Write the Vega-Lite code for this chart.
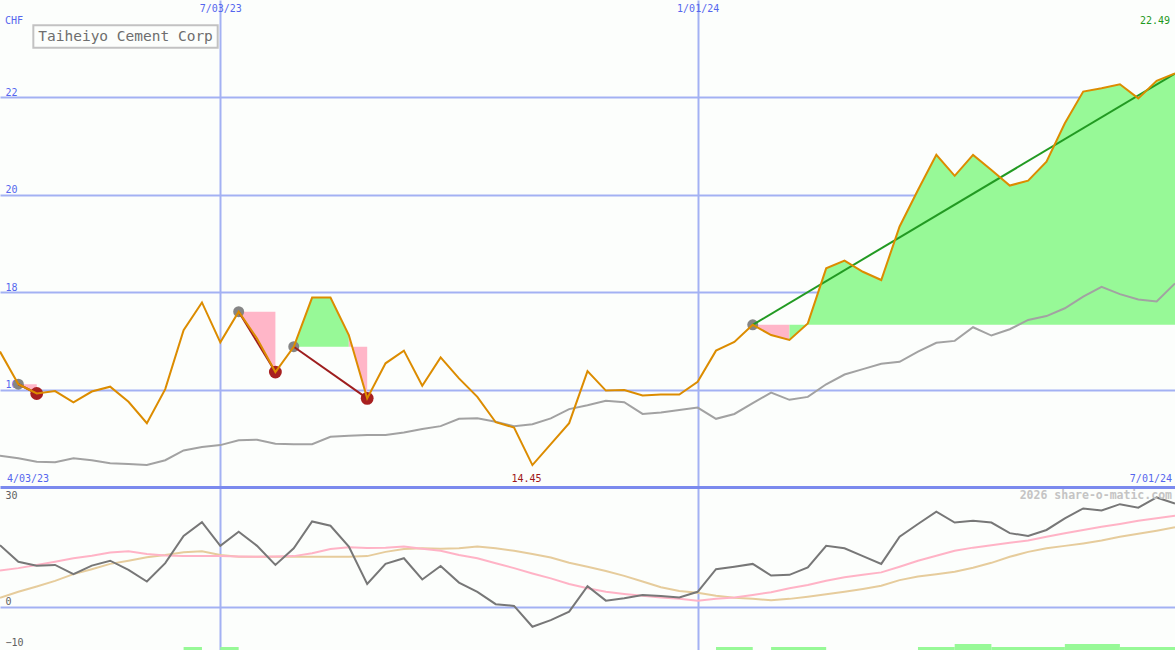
{
  "$schema": "https://vega.github.io/schema/vega-lite/v6.json",
  "padding": 0,
  "spacing": 0,
  "background": "#FCFEFC",
  "config": {
    "view": {"stroke": null},
    "font": "DejaVu Sans Mono",
    "axis": {"labelFont": "DejaVu Sans Mono", "titleFont": "DejaVu Sans Mono"}
  },
  "datasets": {
    "prices": [
      {"date": "2023-04-10", "close": 16.78, "ma": 14.64, "osc": 17.5, "sig1": 10.3, "sig2": 2.6},
      {"date": "2023-04-17", "close": 16.11, "ma": 14.59, "osc": 12.8, "sig1": 11.0, "sig2": 4.3},
      {"date": "2023-04-24", "close": 15.92, "ma": 14.52, "osc": 11.7, "sig1": 11.9, "sig2": 5.8},
      {"date": "2023-05-01", "close": 15.97, "ma": 14.51, "osc": 11.9, "sig1": 12.8, "sig2": 7.4},
      {"date": "2023-05-08", "close": 15.74, "ma": 14.59, "osc": 9.3, "sig1": 13.8, "sig2": 9.3},
      {"date": "2023-05-15", "close": 15.96, "ma": 14.55, "osc": 11.7, "sig1": 14.5, "sig2": 10.7},
      {"date": "2023-05-22", "close": 16.06, "ma": 14.49, "osc": 13.1, "sig1": 15.4, "sig2": 12.2},
      {"date": "2023-05-29", "close": 15.75, "ma": 14.47, "osc": 10.5, "sig1": 15.8, "sig2": 13.1},
      {"date": "2023-06-05", "close": 15.31, "ma": 14.45, "osc": 7.2, "sig1": 15.0, "sig2": 14.1},
      {"date": "2023-06-12", "close": 16.01, "ma": 14.55, "osc": 12.4, "sig1": 14.6, "sig2": 14.7},
      {"date": "2023-06-19", "close": 17.22, "ma": 14.75, "osc": 20.1, "sig1": 14.4, "sig2": 15.5},
      {"date": "2023-06-26", "close": 17.79, "ma": 14.82, "osc": 24.0, "sig1": 14.4, "sig2": 15.8},
      {"date": "2023-07-03", "close": 16.97, "ma": 14.86, "osc": 17.3, "sig1": 14.4, "sig2": 14.7},
      {"date": "2023-07-10", "close": 17.60, "ma": 14.96, "osc": 21.3, "sig1": 14.3, "sig2": 14.2},
      {"date": "2023-07-17", "close": 17.05, "ma": 14.97, "osc": 17.3, "sig1": 14.2, "sig2": 14.2},
      {"date": "2023-07-24", "close": 16.36, "ma": 14.89, "osc": 11.9, "sig1": 14.3, "sig2": 14.2},
      {"date": "2023-07-31", "close": 16.88, "ma": 14.88, "osc": 16.6, "sig1": 14.4, "sig2": 14.2},
      {"date": "2023-08-07", "close": 17.89, "ma": 14.88, "osc": 24.2, "sig1": 15.2, "sig2": 14.2},
      {"date": "2023-08-14", "close": 17.89, "ma": 15.03, "osc": 23.0, "sig1": 16.4, "sig2": 14.2},
      {"date": "2023-08-21", "close": 17.12, "ma": 15.05, "osc": 17.1, "sig1": 16.9, "sig2": 14.2},
      {"date": "2023-08-28", "close": 15.82, "ma": 15.07, "osc": 6.5, "sig1": 16.7, "sig2": 14.4},
      {"date": "2023-09-04", "close": 16.54, "ma": 15.07, "osc": 12.2, "sig1": 16.8, "sig2": 15.6},
      {"date": "2023-09-11", "close": 16.80, "ma": 15.12, "osc": 13.8, "sig1": 17.1, "sig2": 16.4},
      {"date": "2023-09-18", "close": 16.08, "ma": 15.19, "osc": 7.8, "sig1": 16.5, "sig2": 16.6},
      {"date": "2023-09-25", "close": 16.66, "ma": 15.25, "osc": 11.6, "sig1": 15.9, "sig2": 16.5},
      {"date": "2023-10-02", "close": 16.23, "ma": 15.40, "osc": 6.9, "sig1": 14.7, "sig2": 16.6},
      {"date": "2023-10-09", "close": 15.85, "ma": 15.41, "osc": 4.3, "sig1": 13.8, "sig2": 17.1},
      {"date": "2023-10-16", "close": 15.33, "ma": 15.34, "osc": 0.8, "sig1": 12.4, "sig2": 16.6},
      {"date": "2023-10-23", "close": 15.22, "ma": 15.25, "osc": 0.3, "sig1": 11.0, "sig2": 15.9},
      {"date": "2023-10-30", "close": 14.45, "ma": 15.29, "osc": -5.6, "sig1": 9.5, "sig2": 15.0},
      {"date": "2023-11-06", "close": 14.88, "ma": 15.41, "osc": -3.7, "sig1": 8.1, "sig2": 14.0},
      {"date": "2023-11-13", "close": 15.31, "ma": 15.60, "osc": -1.3, "sig1": 6.5, "sig2": 12.5},
      {"date": "2023-11-20", "close": 16.38, "ma": 15.68, "osc": 5.9, "sig1": 5.3, "sig2": 11.4},
      {"date": "2023-11-27", "close": 15.98, "ma": 15.77, "osc": 1.8, "sig1": 4.3, "sig2": 10.2},
      {"date": "2023-12-04", "close": 15.99, "ma": 15.74, "osc": 2.5, "sig1": 3.7, "sig2": 8.8},
      {"date": "2023-12-11", "close": 15.88, "ma": 15.50, "osc": 3.4, "sig1": 3.2, "sig2": 7.2},
      {"date": "2023-12-18", "close": 15.90, "ma": 15.53, "osc": 3.1, "sig1": 2.7, "sig2": 5.6},
      {"date": "2023-12-25", "close": 15.90, "ma": 15.58, "osc": 2.7, "sig1": 2.3, "sig2": 4.5},
      {"date": "2024-01-01", "close": 16.16, "ma": 15.63, "osc": 4.3, "sig1": 1.8, "sig2": 4.0},
      {"date": "2024-01-08", "close": 16.80, "ma": 15.40, "osc": 10.7, "sig1": 2.3, "sig2": 3.2},
      {"date": "2024-01-15", "close": 16.98, "ma": 15.50, "osc": 11.4, "sig1": 2.7, "sig2": 2.6},
      {"date": "2024-01-22", "close": 17.33, "ma": 15.72, "osc": 12.2, "sig1": 3.4, "sig2": 2.3},
      {"date": "2024-01-29", "close": 17.12, "ma": 15.94, "osc": 8.9, "sig1": 4.2, "sig2": 1.9},
      {"date": "2024-02-05", "close": 17.02, "ma": 15.79, "osc": 9.1, "sig1": 5.3, "sig2": 2.3},
      {"date": "2024-02-12", "close": 17.36, "ma": 15.85, "osc": 11.2, "sig1": 6.2, "sig2": 2.9},
      {"date": "2024-02-19", "close": 18.49, "ma": 16.11, "osc": 17.3, "sig1": 7.4, "sig2": 3.6},
      {"date": "2024-02-26", "close": 18.65, "ma": 16.31, "osc": 16.6, "sig1": 8.4, "sig2": 4.3},
      {"date": "2024-03-04", "close": 18.42, "ma": 16.42, "osc": 14.4, "sig1": 9.1, "sig2": 5.1},
      {"date": "2024-03-11", "close": 18.25, "ma": 16.53, "osc": 12.2, "sig1": 9.8, "sig2": 6.0},
      {"date": "2024-03-18", "close": 19.35, "ma": 16.57, "osc": 19.9, "sig1": 11.4, "sig2": 7.6},
      {"date": "2024-03-25", "close": 20.10, "ma": 16.78, "osc": 23.5, "sig1": 13.1, "sig2": 8.6},
      {"date": "2024-04-01", "close": 20.82, "ma": 16.96, "osc": 27.0, "sig1": 14.5, "sig2": 9.3},
      {"date": "2024-04-08", "close": 20.39, "ma": 17.00, "osc": 23.9, "sig1": 15.9, "sig2": 10.0},
      {"date": "2024-04-15", "close": 20.82, "ma": 17.28, "osc": 24.4, "sig1": 16.8, "sig2": 11.1},
      {"date": "2024-04-22", "close": 20.51, "ma": 17.11, "osc": 23.9, "sig1": 17.5, "sig2": 12.5},
      {"date": "2024-04-29", "close": 20.19, "ma": 17.24, "osc": 20.9, "sig1": 18.2, "sig2": 14.2},
      {"date": "2024-05-06", "close": 20.29, "ma": 17.43, "osc": 20.1, "sig1": 18.8, "sig2": 15.6},
      {"date": "2024-05-13", "close": 20.68, "ma": 17.51, "osc": 21.8, "sig1": 19.9, "sig2": 16.6},
      {"date": "2024-05-20", "close": 21.47, "ma": 17.67, "osc": 25.1, "sig1": 20.9, "sig2": 17.3},
      {"date": "2024-05-27", "close": 22.12, "ma": 17.91, "osc": 27.9, "sig1": 21.8, "sig2": 18.0},
      {"date": "2024-06-03", "close": 22.19, "ma": 18.11, "osc": 27.3, "sig1": 22.7, "sig2": 18.8},
      {"date": "2024-06-10", "close": 22.27, "ma": 17.96, "osc": 29.1, "sig1": 23.5, "sig2": 19.9},
      {"date": "2024-06-17", "close": 21.98, "ma": 17.85, "osc": 28.1, "sig1": 24.4, "sig2": 20.7},
      {"date": "2024-06-24", "close": 22.34, "ma": 17.81, "osc": 31.0, "sig1": 25.1, "sig2": 21.6},
      {"date": "2024-07-01", "close": 22.49, "ma": 18.18, "osc": 29.3, "sig1": 25.8, "sig2": 22.6}
    ]
  },
  "vconcat": [
    {
      "width": 1175,
      "height": 487,
      "resolve": {"scale": {"color": "independent", "size": "independent"}},
      "layer": [
        {
          "data": {
            "values": [
              {"run": "A", "side": "loss", "date": "2023-04-17", "price": 16.11, "level": 16.11},
              {"run": "A", "side": "loss", "date": "2023-04-24", "price": 15.92, "level": 16.11},
              {"run": "B", "side": "loss", "date": "2023-07-10", "price": 17.60, "level": 17.60},
              {"run": "B", "side": "loss", "date": "2023-07-17", "price": 17.05, "level": 17.60},
              {"run": "B", "side": "loss", "date": "2023-07-24", "price": 16.36, "level": 17.60},
              {"run": "C1", "side": "gain", "date": "2023-07-31", "price": 16.88, "level": 16.88},
              {"run": "C1", "side": "gain", "date": "2023-08-07", "price": 17.89, "level": 16.88},
              {"run": "C1", "side": "gain", "date": "2023-08-14", "price": 17.89, "level": 16.88},
              {"run": "C1", "side": "gain", "date": "2023-08-21", "price": 17.12, "level": 16.88},
              {"run": "C2", "side": "loss", "date": "2023-08-21", "price": 17.12, "level": 16.88},
              {"run": "C2", "side": "loss", "date": "2023-08-28", "price": 15.82, "level": 16.88},
              {"run": "D1", "side": "loss", "date": "2024-01-22", "price": 17.33, "level": 17.33},
              {"run": "D1", "side": "loss", "date": "2024-01-29", "price": 17.12, "level": 17.33},
              {"run": "D1", "side": "loss", "date": "2024-02-05", "price": 17.02, "level": 17.33},
              {"run": "D2", "side": "gain", "date": "2024-02-05", "price": 17.02, "level": 17.33},
              {"run": "D2", "side": "gain", "date": "2024-02-12", "price": 17.36, "level": 17.33},
              {"run": "D2", "side": "gain", "date": "2024-02-19", "price": 18.49, "level": 17.33},
              {"run": "D2", "side": "gain", "date": "2024-02-26", "price": 18.65, "level": 17.33},
              {"run": "D2", "side": "gain", "date": "2024-03-04", "price": 18.42, "level": 17.33},
              {"run": "D2", "side": "gain", "date": "2024-03-11", "price": 18.25, "level": 17.33},
              {"run": "D2", "side": "gain", "date": "2024-03-18", "price": 19.35, "level": 17.33},
              {"run": "D2", "side": "gain", "date": "2024-03-25", "price": 20.10, "level": 17.33},
              {"run": "D2", "side": "gain", "date": "2024-04-01", "price": 20.82, "level": 17.33},
              {"run": "D2", "side": "gain", "date": "2024-04-08", "price": 20.39, "level": 17.33},
              {"run": "D2", "side": "gain", "date": "2024-04-15", "price": 20.82, "level": 17.33},
              {"run": "D2", "side": "gain", "date": "2024-04-22", "price": 20.51, "level": 17.33},
              {"run": "D2", "side": "gain", "date": "2024-04-29", "price": 20.19, "level": 17.33},
              {"run": "D2", "side": "gain", "date": "2024-05-06", "price": 20.29, "level": 17.33},
              {"run": "D2", "side": "gain", "date": "2024-05-13", "price": 20.68, "level": 17.33},
              {"run": "D2", "side": "gain", "date": "2024-05-20", "price": 21.47, "level": 17.33},
              {"run": "D2", "side": "gain", "date": "2024-05-27", "price": 22.12, "level": 17.33},
              {"run": "D2", "side": "gain", "date": "2024-06-03", "price": 22.19, "level": 17.33},
              {"run": "D2", "side": "gain", "date": "2024-06-10", "price": 22.27, "level": 17.33},
              {"run": "D2", "side": "gain", "date": "2024-06-17", "price": 21.98, "level": 17.33},
              {"run": "D2", "side": "gain", "date": "2024-06-24", "price": 22.34, "level": 17.33},
              {"run": "D2", "side": "gain", "date": "2024-07-01", "price": 22.49, "level": 17.33}
            ]
          },
          "mark": {"type": "area", "clip": true},
          "encoding": {
            "x": {
              "field": "date", "type": "temporal",
              "scale": {"type": "utc", "nice": false, "domain": [{"year": 2023, "month": 4, "date": 10, "utc": true}, {"year": 2024, "month": 7, "date": 1, "utc": true}]},
              "axis": {
                "orient": "top", "title": null,
                "values": [{"year": 2023, "month": 7, "date": 3, "utc": true}, {"year": 2024, "month": 1, "date": 1, "utc": true}],
                "labelExpr": "utcFormat(datum.value, '%-m/%d/%y')",
                "grid": true, "gridColor": "#A3B1F3", "gridWidth": 2,
                "domain": false, "ticks": false, "tickSize": 0,
                "labelPadding": -8, "labelBaseline": "middle", "labelFlush": false,
                "labelColor": "#5566EE", "labelFontSize": 10,
                "minExtent": 0, "maxExtent": 0
              }
            },
            "y": {
              "field": "price", "type": "quantitative", "stack": null,
              "scale": {"domain": [14, 24], "nice": false, "zero": false},
              "axis": {
                "title": null, "values": [16, 18, 20, 22],
                "grid": true, "gridColor": "#A3B1F3", "gridWidth": 2,
                "domain": false, "ticks": false, "tickSize": 0,
                "labelAlign": "left", "labelPadding": -5, "labelBaseline": "bottom", "labelFlush": false,
                "labelColor": "#5566EE", "labelFontSize": 10,
                "minExtent": 0, "maxExtent": 0
              }
            },
            "y2": {"field": "level"},
            "color": {"field": "side", "type": "nominal", "scale": {"domain": ["gain", "loss"], "range": ["#97F997", "#FFB6C8"]}, "legend": null},
            "detail": {"field": "run"}
          }
        },
        {
          "data": {"name": "prices"},
          "mark": {"type": "line", "color": "#A2A2A2", "strokeWidth": 2, "clip": true},
          "encoding": {
            "x": {"field": "date", "type": "temporal"},
            "y": {"field": "ma", "type": "quantitative"}
          }
        },
        {
          "data": {
            "values": [
              {"trade": "A", "kind": "entry", "date": "2023-04-17", "price": 16.11},
              {"trade": "A", "kind": "exit", "date": "2023-04-24", "price": 15.92},
              {"trade": "B", "kind": "entry", "date": "2023-07-10", "price": 17.60},
              {"trade": "B", "kind": "exit", "date": "2023-07-24", "price": 16.36},
              {"trade": "C", "kind": "entry", "date": "2023-07-31", "price": 16.88},
              {"trade": "C", "kind": "exit", "date": "2023-08-28", "price": 15.82},
              {"trade": "D", "kind": "entry", "date": "2024-01-22", "price": 17.33}
            ]
          },
          "mark": {"type": "circle", "opacity": 1},
          "encoding": {
            "x": {"field": "date", "type": "temporal"},
            "y": {"field": "price", "type": "quantitative"},
            "color": {"field": "kind", "type": "nominal", "scale": {"domain": ["entry", "exit"], "range": ["#858585", "#A82020"]}, "legend": null},
            "size": {"field": "kind", "type": "nominal", "scale": {"domain": ["entry", "exit"], "range": [120, 165]}, "legend": null}
          }
        },
        {
          "data": {
            "values": [
              {"trade": "A", "result": "loss", "date": "2023-04-17", "price": 16.11},
              {"trade": "A", "result": "loss", "date": "2023-04-24", "price": 15.92},
              {"trade": "B", "result": "loss", "date": "2023-07-10", "price": 17.60},
              {"trade": "B", "result": "loss", "date": "2023-07-24", "price": 16.36},
              {"trade": "C", "result": "loss", "date": "2023-07-31", "price": 16.88},
              {"trade": "C", "result": "loss", "date": "2023-08-28", "price": 15.82},
              {"trade": "D", "result": "gain", "date": "2024-01-22", "price": 17.33},
              {"trade": "D", "result": "gain", "date": "2024-07-01", "price": 22.49}
            ]
          },
          "mark": {"type": "line", "strokeWidth": 2, "clip": true},
          "encoding": {
            "x": {"field": "date", "type": "temporal"},
            "y": {"field": "price", "type": "quantitative"},
            "color": {"field": "result", "type": "nominal", "scale": {"domain": ["gain", "loss"], "range": ["#229A22", "#9E1E1E"]}, "legend": null},
            "detail": {"field": "trade"}
          }
        },
        {
          "data": {"name": "prices"},
          "mark": {"type": "line", "color": "#DC8C00", "strokeWidth": 2, "clip": true},
          "encoding": {
            "x": {"field": "date", "type": "temporal"},
            "y": {"field": "close", "type": "quantitative"}
          }
        },
        {
          "data": {"values": [{}]},
          "mark": {"type": "rect", "fill": "#FCFEFC", "stroke": "#C2C2C2", "strokeWidth": 2},
          "encoding": {
            "x": {"datum": {"year": 2023, "month": 4, "date": 22, "hours": 17, "utc": true}, "type": "temporal"},
            "x2": {"datum": {"year": 2023, "month": 7, "date": 2, "hours": 0, "utc": true}},
            "y": {"datum": 23.48, "type": "quantitative"},
            "y2": {"datum": 23.02}
          }
        },
        {
          "data": {"values": [{}]},
          "mark": {"type": "text", "align": "left", "baseline": "middle", "fontSize": 14.5, "color": "#6E6E6E", "font": "DejaVu Sans Mono"},
          "encoding": {
            "x": {"datum": {"year": 2023, "month": 4, "date": 24, "hours": 14, "utc": true}, "type": "temporal"},
            "y": {"datum": 23.25, "type": "quantitative"},
            "text": {"value": "Taiheiyo Cement Corp"}
          }
        },
        {
          "data": {"values": [{}]},
          "mark": {"type": "text", "align": "left", "baseline": "middle", "dx": 5, "fontSize": 10, "color": "#5566EE"},
          "encoding": {
            "x": {"datum": {"year": 2023, "month": 4, "date": 10, "utc": true}, "type": "temporal"},
            "y": {"datum": 23.57, "type": "quantitative"},
            "text": {"value": "CHF"}
          }
        },
        {
          "data": {"values": [{}]},
          "mark": {"type": "text", "align": "left", "baseline": "middle", "dx": 7, "fontSize": 10, "color": "#5566EE"},
          "encoding": {
            "x": {"datum": {"year": 2023, "month": 4, "date": 10, "utc": true}, "type": "temporal"},
            "y": {"datum": 14.16, "type": "quantitative"},
            "text": {"value": "4/03/23"}
          }
        },
        {
          "data": {"values": [{}]},
          "mark": {"type": "text", "align": "right", "baseline": "middle", "dx": -3, "fontSize": 10, "color": "#5566EE"},
          "encoding": {
            "x": {"datum": {"year": 2024, "month": 7, "date": 1, "utc": true}, "type": "temporal"},
            "y": {"datum": 14.16, "type": "quantitative"},
            "text": {"value": "7/01/24"}
          }
        },
        {
          "data": {"values": [{}]},
          "mark": {"type": "text", "align": "right", "baseline": "middle", "dx": -5, "fontSize": 10, "color": "#1F991F"},
          "encoding": {
            "x": {"datum": {"year": 2024, "month": 7, "date": 1, "utc": true}, "type": "temporal"},
            "y": {"datum": 23.57, "type": "quantitative"},
            "text": {"value": "22.49"}
          }
        },
        {
          "data": {"values": [{}]},
          "mark": {"type": "text", "align": "center", "baseline": "middle", "dx": -6, "fontSize": 10, "color": "#A01818"},
          "encoding": {
            "x": {"datum": {"year": 2023, "month": 10, "date": 30, "utc": true}, "type": "temporal"},
            "y": {"datum": 14.16, "type": "quantitative"},
            "text": {"value": "14.45"}
          }
        }
      ]
    },
    {
      "width": 1175,
      "height": 163,
      "resolve": {"scale": {"y": "independent"}},
      "layer": [
        {
          "data": {
            "values": [
              {"start": "2023-06-19", "end": "2023-06-26", "level": 1},
              {"start": "2023-07-03", "end": "2023-07-10", "level": 1},
              {"start": "2024-01-08", "end": "2024-01-22", "level": 1},
              {"start": "2024-01-29", "end": "2024-02-19", "level": 1},
              {"start": "2024-03-25", "end": "2024-04-08", "level": 1},
              {"start": "2024-04-08", "end": "2024-04-22", "level": 2},
              {"start": "2024-04-22", "end": "2024-05-20", "level": 1},
              {"start": "2024-05-20", "end": "2024-06-10", "level": 2},
              {"start": "2024-06-10", "end": "2024-07-01", "level": 1}
            ],
            "format": {"parse": {"start": "date", "end": "date"}}
          },
          "mark": {"type": "rect", "color": "#97F997", "clip": true},
          "encoding": {
            "x": {
              "field": "start", "type": "temporal",
              "scale": {"type": "utc", "nice": false, "domain": [{"year": 2023, "month": 4, "date": 10, "utc": true}, {"year": 2024, "month": 7, "date": 1, "utc": true}]},
              "axis": {
                "orient": "top", "title": null,
                "values": [{"year": 2023, "month": 7, "date": 3, "utc": true}, {"year": 2024, "month": 1, "date": 1, "utc": true}],
                "grid": true, "gridColor": "#A3B1F3", "gridWidth": 2,
                "domain": true, "domainColor": "#7B8AEE", "domainWidth": 3,
                "ticks": false, "tickSize": 0, "labels": false,
                "minExtent": 0, "maxExtent": 0
              }
            },
            "x2": {"field": "end"},
            "y": {"field": "level", "type": "quantitative", "scale": {"domain": [0, 54.33], "nice": false, "zero": true}, "axis": null},
            "y2": {"datum": 0}
          }
        },
        {
          "data": {"name": "prices"},
          "layer": [
            {
              "mark": {"type": "line", "color": "#E6CC9C", "strokeWidth": 2, "clip": true},
              "encoding": {
                "x": {"field": "date", "type": "temporal"},
                "y": {
                  "field": "sig2", "type": "quantitative",
                  "scale": {"domain": [-12.17, 33.96], "nice": false, "zero": false},
                  "axis": {
                    "title": null, "values": [30, 0, -10],
                    "grid": true, "gridColor": "#A3B1F3", "gridWidth": 2,
                    "gridOpacity": {"condition": {"test": "datum.value === 0", "value": 1}, "value": 0},
                    "domain": false, "ticks": false, "tickSize": 0,
                    "labelAlign": "left", "labelPadding": -5,
                    "labelBaseline": {"condition": {"test": "datum.value < 0", "value": "middle"}, "value": "bottom"},
                    "labelFlush": false, "labelOverlap": false,
                    "labelColor": "#606060", "labelFontSize": 10,
                    "minExtent": 0, "maxExtent": 0
                  }
                }
              }
            },
            {
              "mark": {"type": "line", "color": "#FFB3C6", "strokeWidth": 2, "clip": true},
              "encoding": {
                "x": {"field": "date", "type": "temporal"},
                "y": {"field": "sig1", "type": "quantitative"}
              }
            },
            {
              "mark": {"type": "line", "color": "#777777", "strokeWidth": 2, "clip": true},
              "encoding": {
                "x": {"field": "date", "type": "temporal"},
                "y": {"field": "osc", "type": "quantitative"}
              }
            },
            {
              "data": {"values": [{}]},
              "mark": {"type": "text", "align": "right", "baseline": "middle", "dx": -3, "fontSize": 11.5, "fontWeight": "bold", "color": "#C4C4C4"},
              "encoding": {
                "x": {"datum": {"year": 2024, "month": 7, "date": 1, "utc": true}, "type": "temporal"},
                "y": {"datum": 31.4, "type": "quantitative"},
                "text": {"value": "2026 share-o-matic.com"}
              }
            }
          ]
        }
      ]
    }
  ]
}
